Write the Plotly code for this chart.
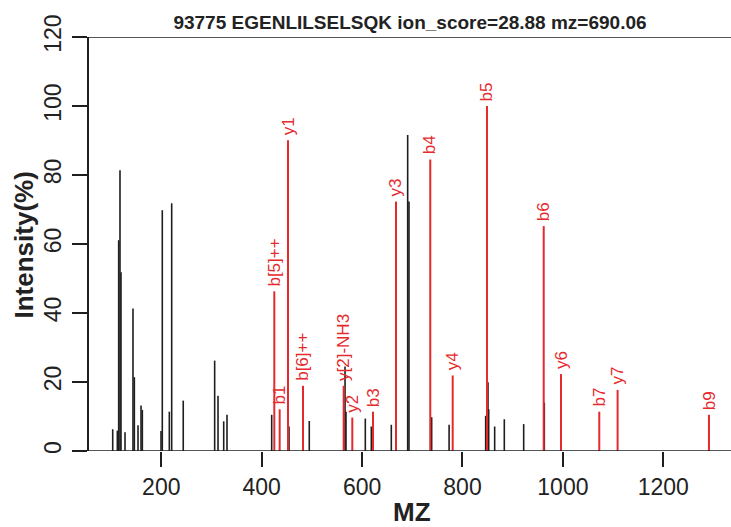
import plotly.graph_objects as go

# unmatched (black) peaks
other_mz = [103.2, 112.4, 115.1, 117.7, 119.7, 127.7, 143.6, 146.3, 153.6, 159.6,
            162.2, 199.4, 202.0, 216.0, 220.7, 243.7, 306.3, 313.0, 324.3, 330.9,
            419.9, 454.4, 494.8, 566.0, 567.9, 606.4, 618.4, 658.2, 690.8, 693.4,
            738.6, 773.3, 846.2, 850.8, 852.2, 864.1, 883.3, 921.9, 963.0]
other_int = [6.3, 5.9, 61.1, 81.4, 51.8, 5.4, 41.3, 21.4, 7.5, 13.2,
             11.9, 5.8, 69.8, 11.4, 71.8, 14.6, 26.2, 16.0, 8.6, 10.5,
             10.5, 7.1, 8.7, 24.5, 11.4, 9.4, 7.1, 7.6, 91.6, 72.3,
             9.8, 7.6, 10.2, 19.9, 12.1, 7.1, 9.2, 7.8, 14.0]

# matched (red) fragment ions
ion_labels = ["b[5]++", "b1", "y1", "b[6]++", "y[2]-NH3", "y2", "b3", "y3",
              "b4", "y4", "b5", "b6", "y6", "b7", "y7", "b9"]
ion_mz = [425.1, 435.8, 452.4, 482.3, 563.3, 580.5, 621.7, 667.5,
          735.8, 780.5, 848.8, 961.8, 996.2, 1072.5, 1109.0, 1291.0]
ion_int = [46.3, 12.1, 90.1, 18.9, 18.9, 9.7, 11.4, 72.3,
           84.5, 21.9, 100.0, 65.2, 22.3, 11.4, 17.7, 10.5]

x_ticks = [200, 400, 600, 800, 1000, 1200]
y_ticks = [0, 20, 40, 60, 80, 100, 120]

title_text = "93775 EGENLILSELSQK ion_score=28.88 mz=690.06"
x_title = "MZ"
y_title = "Intensity(%)"

RED = "#e52a2e"
BLACK = "#1e1e1e"
FONT = "Liberation Sans, Arial, sans-serif"

W, H = 731, 527
L, R, T, B = 89, 0, 37, 76
PW, PH = W - L - R, H - T - B


def stems(xs, ys):
    sx, sy = [], []
    for x, y in zip(xs, ys):
        sx += [x, x, None]
        sy += [0, y, None]
    return sx, sy


fig = go.Figure()
bx, by = stems(other_mz, other_int)
fig.add_trace(go.Scatter(x=bx, y=by, mode="lines",
                         line=dict(color=BLACK, width=1.6),
                         hoverinfo="skip", showlegend=False))
rx, ry = stems(ion_mz, ion_int)
fig.add_trace(go.Scatter(x=rx, y=ry, mode="lines",
                         line=dict(color=RED, width=2),
                         hoverinfo="skip", showlegend=False))

for lab, x, y in zip(ion_labels, ion_mz, ion_int):
    fig.add_annotation(x=x, y=y, text=lab, showarrow=False, textangle=-90,
                       xanchor="center", yanchor="bottom", yshift=3,
                       font=dict(family=FONT, size=17, color=RED))

# axis titles as paper annotations (pixel placement)
fig.add_annotation(xref="paper", yref="paper", x=(412 - L) / PW,
                   y=(H - B - 512) / PH, text="<b>" + x_title + "</b>",
                   showarrow=False, xanchor="center", yanchor="middle",
                   font=dict(family=FONT, size=26, color="#222"))
fig.add_annotation(xref="paper", yref="paper", x=(23.5 - L) / PW,
                   y=(H - B - 245) / PH, text="<b>" + y_title + "</b>",
                   showarrow=False, xanchor="center", yanchor="middle",
                   textangle=-90,
                   font=dict(family=FONT, size=26, color="#222"))

# horizontal lines at 0 and 120 extending to the left tick ends
for yv in (0, 120):
    fig.add_shape(type="line", xref="paper", yref="y",
                  x0=-15 / PW, x1=1, y0=yv, y1=yv,
                  line=dict(color=BLACK, width=1.6), layer="above")

fig.update_layout(
    width=W, height=H,
    margin=dict(l=L, r=R, t=T, b=B, autoexpand=False),
    paper_bgcolor="white", plot_bgcolor="white",
    font=dict(family=FONT, color="#222"),
    title=dict(text="<b>" + title_text + "</b>", x=0.5, xanchor="center",
               y=1 - 22 / H, yanchor="middle", xref="paper",
               font=dict(size=19, color="#222")),
    xaxis=dict(range=[55.97, 1334.9], tickvals=x_ticks,
               ticktext=[str(v) for v in x_ticks], automargin=False,
               ticks="outside", ticklen=15, tickwidth=1.6, tickcolor=BLACK,
               showline=False, showgrid=False, zeroline=False,
               tickfont=dict(size=23, color="#222")),
    yaxis=dict(range=[0, 120], tickvals=y_ticks,
               ticktext=[str(v) for v in y_ticks], automargin=False,
               ticks="outside", ticklen=15, tickwidth=1.6, tickcolor=BLACK,
               showline=True, linecolor=BLACK, linewidth=1.6,
               showgrid=False, zeroline=False, tickangle=-90,
               ticklabelstandoff=2,
               tickfont=dict(size=23, color="#222")),
)

fig.write_html("out.html",
               config={"displayModeBar": False},
               post_script="document.body.style.margin='0';"
                           "document.body.style.padding='0';")
